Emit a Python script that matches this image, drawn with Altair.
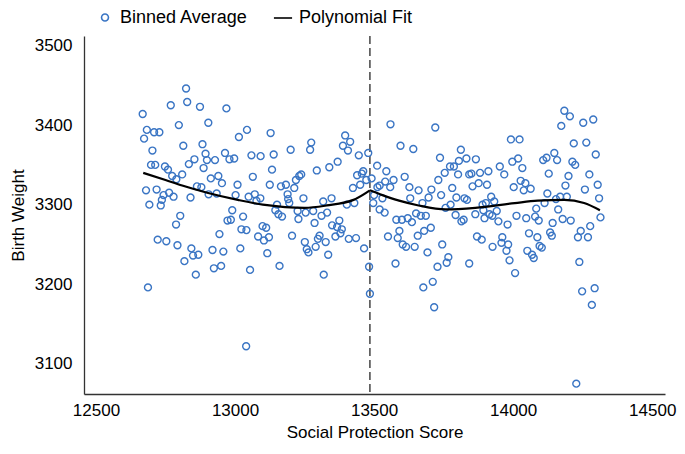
import altair as alt
import pandas as pd

# ---- data ----
bin_x = [
    # 12650-12980 (upper block)
    12824, 12828, 12769, 12874, 12969, 12668, 12798, 12904, 12683, 12709, 12728, 12673,
    12814, 12883, 12703, 12894, 12964, 12854, 12899, 12928, 12834, 12698, 12713, 12887,
    12748, 12759, 12810, 12774, 12789, 12913, 12940, 12953, 12863, 12879, 12680, 12718,
    12763, 12743, 12779, 12840, 12905, 12934, 12737, 12692, 12733,
    # 12650-12980 (lower block)
    12803, 12788, 12973, 12944, 12722, 12753, 12793, 12843, 12919, 12958, 12849, 12868,
    12818, 12924, 12950, 12859, 12687,
    # 12980-13480 (upper block)
    13043, 13014, 13128, 13396, 13274, 13414, 13388, 13270, 13406, 13200, 13139, 13059,
    13092, 12997, 12980, 13445, 13369, 13133, 13294, 13339, 13064, 13238, 13231, 13219,
    13439, 13456, 13461, 13472, 13009, 13125, 13165, 13183, 13213, 13424, 13450, 13002,
    13049, 13071, 13091, 13189, 13191, 13246, 13347, 13317, 13077, 13195, 13402, 13429,
    13151,
    # 12980-13480 (lower block)
    12990, 12985, 13029, 13023, 13041, 13099, 13112, 13083, 13104, 13122, 13019, 13116,
    13145, 13156, 13169, 13225, 13254, 13281, 13311, 13331, 13228, 13286, 13349, 13375,
    13367, 13384, 13379, 13361, 13409, 13435, 13205, 13251, 13304, 13298, 13326, 13290,
    13258, 13264, 13335, 13464, 13054, 13160, 13319, 13040,
    # 13480-13970 (upper block)
    13479, 13559, 13720, 13595, 13641, 13812, 13737, 13511, 13544, 13491, 13773, 13787,
    13805, 13832, 13866, 13952, 13911, 13881, 13850, 13842, 13802, 13754, 13731, 13610,
    13570, 13540, 13968, 13876, 13854, 13906, 13520, 13512, 13558, 13627, 13660, 13706,
    13781, 13741, 13696, 13630, 13796, 13825, 13834, 13921, 13500, 13530, 13497, 13674,
    13902, 13932, 13890, 13775,
    # 13480-13970 (lower block)
    13520, 13538, 13580, 13600, 13621, 13636, 13651, 13668, 13686, 13757, 13793, 13864,
    13893, 13915, 13941, 13897, 13814, 13822, 13925, 13947, 13550, 13585, 13591, 13603,
    13615, 13646, 13657, 13680, 13704, 13745, 13692, 13577, 13767, 13761, 13728, 13842,
    13870, 13887, 13926, 13961, 13958, 13482, 13485, 13711, 13677, 13716,
    # 13970-14320 (upper block)
    14184, 14204, 14173, 14252, 14288, 13992, 14023, 14218, 14263, 14148, 14297, 13997,
    14018, 14108, 14120, 14158, 14213, 14223, 14033, 14128, 14199, 14274, 14027, 14044,
    14002, 14038, 14063, 14188, 14258, 14304, 14123, 14309, 14169, 14193, 14154, 14113,
    # 13970-14320 (lower block)
    14012, 14047, 14083, 14079, 14092, 14162, 14178, 14142, 14207, 14314, 13980, 14277,
    14243, 14057, 14133, 14139, 14233, 14269, 14087, 13982, 14095, 14103, 13976, 14051,
    14068, 14074, 13987, 14238, 14007, 14293, 14248, 14283, 14227,
]
bin_y = [
    3446, 3429, 3425, 3423, 3421, 3414, 3400, 3403, 3394, 3391, 3391, 3383,
    3374, 3376, 3368, 3364, 3365, 3357, 3356, 3356, 3351, 3350, 3350, 3346,
    3348, 3344, 3338, 3336, 3332, 3333, 3336, 3327, 3323, 3322, 3318, 3319,
    3315, 3312, 3310, 3309, 3313, 3314, 3306, 3300, 3299,
    3286, 3275, 3280, 3263, 3256, 3254, 3249, 3245, 3243, 3241, 3236, 3237,
    3229, 3220, 3223, 3212, 3196,
    3394, 3385, 3390, 3387, 3378, 3379, 3374, 3369, 3368, 3369, 3363, 3362,
    3361, 3358, 3357, 3362, 3354, 3344, 3343, 3347, 3335, 3338, 3336, 3331,
    3337, 3339, 3342, 3331, 3325, 3325, 3323, 3325, 3321, 3321, 3325, 3312,
    3310, 3313, 3308, 3313, 3307, 3308, 3308, 3304, 3305, 3302, 3300, 3302,
    3300,
    3293, 3281, 3285, 3269, 3268, 3273, 3271, 3260, 3255, 3259, 3245, 3239,
    3293, 3288, 3285, 3292, 3290, 3292, 3286, 3290, 3282, 3277, 3274, 3280,
    3272, 3269, 3264, 3260, 3257, 3258, 3261, 3253, 3261, 3257, 3253, 3247,
    3244, 3240, 3237, 3245, 3218, 3223, 3212, 3122,
    3365, 3401, 3397, 3374, 3370, 3369, 3359, 3349, 3342, 3333, 3348, 3348,
    3355, 3358, 3357, 3348, 3342, 3340, 3339, 3338, 3338, 3340, 3331, 3335,
    3331, 3329, 3338, 3327, 3323, 3325, 3324, 3322, 3322, 3322, 3318, 3319,
    3321, 3312, 3309, 3308, 3309, 3308, 3306, 3310, 3312, 3308, 3302, 3302,
    3302, 3304, 3300, 3300,
    3294, 3290, 3281, 3281, 3283, 3278, 3289, 3286, 3286, 3296, 3287, 3288,
    3293, 3288, 3292, 3283, 3279, 3281, 3286, 3279, 3260, 3258, 3267, 3250,
    3247, 3247, 3261, 3267, 3271, 3250, 3240, 3226, 3234, 3227, 3222, 3226,
    3260, 3256, 3247, 3259, 3252, 3222, 3188, 3203, 3196, 3171,
    3418, 3411, 3399, 3403, 3407, 3382, 3382, 3377, 3378, 3365, 3363, 3354,
    3358, 3356, 3359, 3356, 3354, 3350, 3346, 3339, 3336, 3338, 3330, 3327,
    3322, 3318, 3320, 3324, 3319, 3325, 3314, 3308, 3310, 3310, 3307, 3302,
    3286, 3283, 3295, 3285, 3280, 3294, 3282, 3277, 3280, 3284, 3275, 3273,
    3267, 3264, 3265, 3261, 3259, 3259, 3259, 3250, 3248, 3246, 3242, 3242,
    3237, 3233, 3230, 3228, 3214, 3195, 3191, 3174, 3075,
]

fit_left_x = [12670, 12750, 12810, 12900, 13010, 13100, 13180, 13250, 13330, 13426, 13485]
fit_left_y = [3340, 3331, 3324, 3315, 3306, 3300, 3297, 3296, 3299, 3306, 3318]
fit_right_x = [13485, 13530, 13590, 13660, 13757, 13864, 14006, 14088, 14184, 14255, 14312]
fit_right_y = [3318, 3312, 3305, 3299, 3294, 3296, 3302, 3305, 3306, 3302, 3293]

cutoff = [13485]
x_ticks = [12500, 13000, 13500, 14000, 14500]
y_ticks = [3100, 3200, 3300, 3400, 3500]
series_names = ["Binned Average", "Polynomial Fit"]

# ---- tables ----
n = min(len(bin_x), len(bin_y))
pts = pd.DataFrame({"x": bin_x[:n], "y": bin_y[:n], "series": series_names[0]})
fit = pd.concat([
    pd.DataFrame({"x": fit_left_x, "y": fit_left_y, "side": "left"}),
    pd.DataFrame({"x": fit_right_x, "y": fit_right_y, "side": "right"}),
])
fit["series"] = series_names[1]
cut = pd.DataFrame({"c": cutoff})

FONT = "Liberation Sans"
xscale = alt.Scale(domain=[12457, 14546], nice=False, zero=False)
yscale = alt.Scale(domain=[3062, 3512], nice=False, zero=False)
xenc = alt.X("x:Q", scale=xscale, title="Social Protection Score",
             axis=alt.Axis(values=x_ticks, format="d"))
yenc = alt.Y("y:Q", scale=yscale, title="Birth Weight",
             axis=alt.Axis(values=y_ticks, format="d"))

legend = alt.Legend(title=None, orient="none", direction="horizontal",
                    legendX=12, legendY=-28, labelFontSize=18, labelFont=FONT,
                    labelColor="#000000", columnPadding=22, labelOffset=6,
                    symbolStrokeWidth=1.6, padding=0)
color = alt.Color("series:N", scale=alt.Scale(domain=series_names,
                  range=["#3a75c4", "#000000"]), legend=legend)
shape = alt.Shape("series:N", scale=alt.Scale(domain=series_names,
                  range=["circle", "stroke"]), legend=legend)
size = alt.Size("series:N", scale=alt.Scale(domain=series_names,
                range=[48, 330]), legend=legend)

points = alt.Chart(pts).mark_point(filled=False, strokeWidth=1.4, opacity=1).encode(
    x=xenc, y=yenc, color=color, shape=shape, size=size)
line = alt.Chart(fit).mark_line(strokeWidth=2.2, interpolate="monotone").encode(
    x=xenc, y=yenc, color=color, detail="side:N")
rule = alt.Chart(cut).mark_rule(strokeDash=[8, 4], color="#444444", strokeWidth=1.5).encode(
    x=alt.X("c:Q", scale=xscale))

chart = alt.layer(rule, points, line).properties(
    width=581, height=358,
    autosize=alt.AutoSizeParams(type="none"),
    padding={"left": 76, "top": 28, "right": 12, "bottom": 52},
).configure_view(stroke=None).configure_axis(
    grid=False, ticks=False, domainColor="#333333", domainWidth=1.3,
    labelFont=FONT, titleFont=FONT, labelFontSize=17, titleFontSize=17,
    labelColor="#000000", titleColor="#000000", titleFontWeight="normal",
).configure_axisX(labelPadding=8, titlePadding=6).configure_axisY(
    labelPadding=12, titlePadding=7)

chart.save("out.html", embed_options={"renderer": "svg", "actions": False})
